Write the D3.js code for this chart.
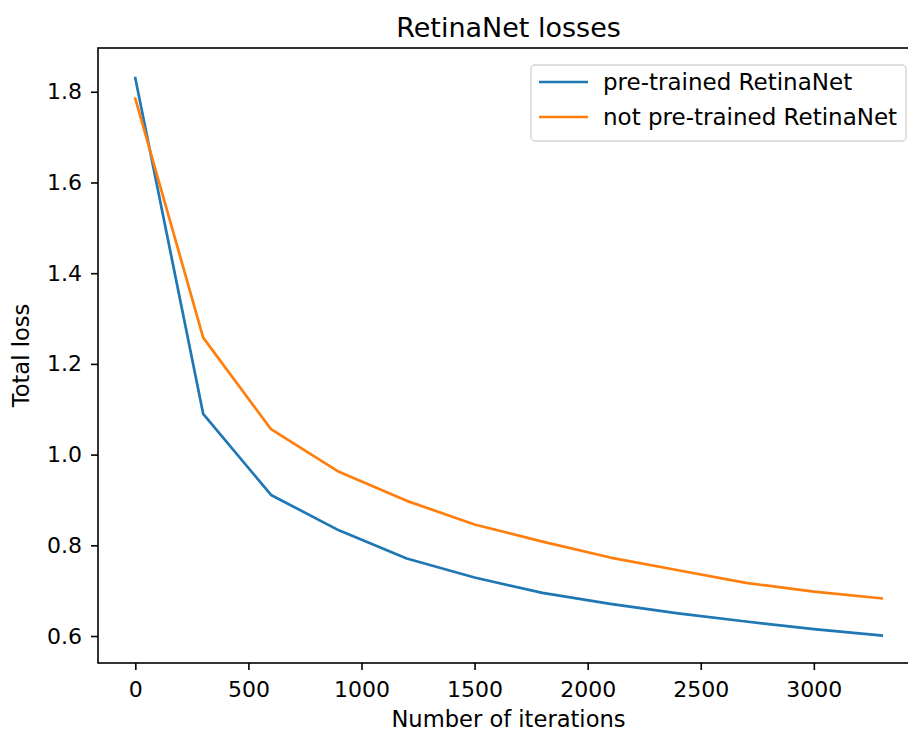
<!DOCTYPE html>
<html>
<head>
<meta charset="utf-8">
<script src="https://cdn.jsdelivr.net/npm/d3@7"></script>
<style>
    body { margin: 0; background: #fff; }
    svg { display: block; font-family: "DejaVu Sans", sans-serif; }
</style>
</head>
<body>
<svg id="chart" width="908" height="731"></svg>
<script>
const iterations = [0, 300, 600, 900, 1200, 1500, 1800, 2100, 2400, 2700, 3000, 3300];
const pretrainedLoss = [1.830, 1.090, 0.911, 0.833, 0.771, 0.729, 0.695, 0.671, 0.650, 0.632, 0.615, 0.601];
const notPretrainedLoss = [1.785, 1.258, 1.056, 0.962, 0.898, 0.846, 0.808, 0.773, 0.745, 0.717, 0.698, 0.683];
const xTicks = [0, 500, 1000, 1500, 2000, 2500, 3000];
const yTicks = [0.6, 0.8, 1.0, 1.2, 1.4, 1.6, 1.8];

const series = [
    {name: "pre-trained RetinaNet", color: "#1f77b4", values: pretrainedLoss},
    {name: "not pre-trained RetinaNet", color: "#ff7f0e", values: notPretrainedLoss}
];

let svg = d3.select("#chart"),
    margin = {top: 48, right: -11, bottom: 68, left: 98},
    width = +svg.attr("width") - margin.left - margin.right,
    height = +svg.attr("height") - margin.top - margin.bottom,
    g = svg.append("g").attr("transform", "translate(" + margin.left + "," + margin.top + ")");

// matplotlib style 5% padding around the data
let x = d3.scaleLinear()
    .domain([-165, 3465])
    .range([0, width]);

let y = d3.scaleLinear()
    .domain([0.5405, 1.8965])
    .range([height, 0]);

let line = d3.line()
    .x((d, i) => x(iterations[i]))
    .y(d => y(d));

series.forEach(s => {
    g.append("path")
        .datum(s.values)
        .attr("fill", "none")
        .attr("stroke", s.color)
        .attr("stroke-width", 2.7)
        .attr("stroke-linejoin", "round")
        .attr("stroke-linecap", "square")
        .attr("d", line);
});

// frame (right side falls outside the picture, like the cropped original)
g.append("rect")
    .attr("width", width)
    .attr("height", height)
    .attr("fill", "none")
    .attr("stroke", "#000")
    .attr("stroke-width", 1.6);

let xAxis = g.append("g")
    .attr("transform", "translate(0," + height + ")")
    .call(d3.axisBottom(x).tickValues(xTicks).tickSize(7).tickPadding(11).tickFormat(d3.format("d")));

let yAxis = g.append("g")
    .call(d3.axisLeft(y).tickValues(yTicks).tickSize(7).tickPadding(9).tickFormat(d3.format(".1f")));

[xAxis, yAxis].forEach(a => {
    a.select(".domain").remove();
    a.selectAll("line").attr("stroke", "#000").attr("stroke-width", 1.6);
    a.selectAll("text")
        .attr("fill", "#000")
        .style("font-family", "'DejaVu Sans', sans-serif")
        .style("font-size", "22px");
});

svg.append("text")
    .attr("x", margin.left + x(1650))
    .attr("y", 37)
    .attr("text-anchor", "middle")
    .style("font-size", "27px")
    .text("RetinaNet losses");

svg.append("text")
    .attr("x", margin.left + x(1650))
    .attr("y", 727)
    .attr("text-anchor", "middle")
    .style("font-size", "22.6px")
    .text("Number of iterations");

svg.append("text")
    .attr("transform", "translate(29," + (margin.top + height / 2) + ") rotate(-90)")
    .attr("text-anchor", "middle")
    .style("font-size", "22.6px")
    .text("Total loss");

// legend
let legend = svg.append("g")
    .attr("transform", "translate(531,65)");

legend.append("rect")
    .attr("width", 375)
    .attr("height", 76)
    .attr("rx", 4)
    .attr("fill", "#fff")
    .attr("fill-opacity", 0.8)
    .attr("stroke", "#d5d5d5")
    .attr("stroke-width", 1.4);

let entry = legend.selectAll(".entry")
    .data(series)
    .enter().append("g")
    .attr("class", "entry")
    .attr("transform", (d, i) => "translate(0," + (17 + i * 35) + ")");

entry.append("line")
    .attr("x1", 8)
    .attr("x2", 57)
    .attr("stroke", d => d.color)
    .attr("stroke-width", 2.7);

entry.append("text")
    .attr("x", 72)
    .attr("dy", "0.35em")
    .style("font-size", "23px")
    .text(d => d.name);
</script>
</body>
</html>
